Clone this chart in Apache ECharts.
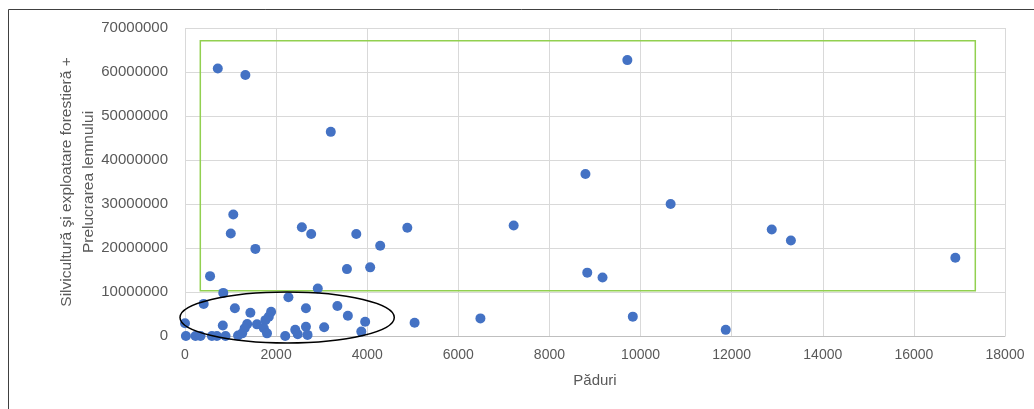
<!DOCTYPE html>
<html>
<head>
<meta charset="utf-8">
<script src="https://cdn.jsdelivr.net/npm/echarts@6/dist/echarts.min.js"></script>
<style>
html,body{margin:0;padding:0;background:#fff;}
#c{width:1034px;height:409px;}
</style>
</head>
<body>
<div id="c"></div>
<script>
// Păduri (x) values
var paduri = [
  720, 1325, 3200, 9710, 8790, 10660, 8830, 9165, 9830, 11870,
  12880, 13300, 16910, 4880, 7215, 5040, 6485, 1060, 1005, 1545,
  550, 2565, 2770, 3760, 4285, 3555, 4065, 840, 2915, 2270,
  410, 1095, 1435, 1890, 1840, 1765, 0, 830, 1365, 1310,
  1580, 1730, 1800, 1165, 1255, 20, 230, 340, 590, 700,
  890, 2200, 2655, 3345, 3575, 3955, 3870, 3055, 2655, 2420,
  2475, 2690
];
// Silvicultură şi exploatare forestieră + Prelucrarea lemnului (y) values
var silvicultura = [
  60800000, 59300000, 46400000, 62700000, 36800000, 30000000, 14400000, 13300000, 4400000, 1400000,
  24200000, 21700000, 17800000, 24600000, 25100000, 3000000, 4000000, 27600000, 23300000, 19800000,
  13600000, 24700000, 23200000, 23200000, 20500000, 15200000, 15600000, 9800000, 10800000, 8800000,
  7300000, 6300000, 5300000, 5500000, 4400000, 3600000, 2900000, 2400000, 2700000, 1750000,
  2650000, 1750000, 600000, 100000, 600000, 0, 0, 0, 0, 0,
  0, 0, 6300000, 6800000, 4600000, 3250000, 1000000, 2000000, 2100000, 1400000,
  400000, 250000
];
var xTicks = [0, 2000, 4000, 6000, 8000, 10000, 12000, 14000, 16000, 18000];
var yTicks = [0, 10000000, 20000000, 30000000, 40000000, 50000000, 60000000, 70000000];
// highlighted region (green rectangle) in data units: [xMin, yMin], [xMax, yMax]
var greenBox = [[336, 10300000], [17348, 67100000]];
// ellipse around the low cluster: centre and radii in data units
var ellipseCenter = [2242, 4200000];
var ellipseRadius = [2352, 5800000];

var points = paduri.map(function (x, i) { return [x, silvicultura[i]]; });

var chart = echarts.init(document.getElementById('c'));
var font = 'Liberation Sans';
chart.setOption({
  backgroundColor: '#ffffff',
  animation: false,
  grid: { left: 185, right: 29, top: 28, bottom: 73, containLabel: false },
  xAxis: {
    type: 'value',
    min: xTicks[0], max: xTicks[xTicks.length - 1], interval: 2000,
    name: 'Păduri', nameLocation: 'middle', nameGap: 37, nameMoveOverlap: false,
    nameTextStyle: { color: '#595959', fontSize: 15, fontFamily: font },
    axisLine: { show: true, lineStyle: { color: '#BFBFBF', width: 1 } },
    axisTick: { show: false },
    axisLabel: { color: '#595959', fontSize: 14, fontFamily: font, margin: 12,
      formatter: function (v) { return String(v); } },
    splitLine: { show: true, lineStyle: { color: '#D9D9D9', width: 1 } }
  },
  yAxis: {
    type: 'value',
    min: yTicks[0], max: yTicks[yTicks.length - 1], interval: 10000000,
    name: 'Silvicultură şi exploatare forestieră +\nPrelucrarea lemnului',
    nameLocation: 'middle', nameRotate: 90, nameGap: 85, nameMoveOverlap: false,
    nameTextStyle: { color: '#595959', fontSize: 15.5, fontFamily: font, lineHeight: 22, align: 'center' },
    axisLine: { show: false },
    axisTick: { show: false },
    axisLabel: { color: '#595959', fontSize: 15, fontFamily: font, margin: 17,
      formatter: function (v) { return String(v); } },
    splitLine: { show: true, lineStyle: { color: '#D9D9D9', width: 1 } }
  },
  series: [{
    type: 'scatter',
    data: points,
    symbol: 'circle',
    symbolSize: 10,
    itemStyle: { color: '#4472C4', opacity: 1 },
    markArea: {
      silent: true,
      itemStyle: { color: 'rgba(0,0,0,0)', borderColor: '#92D050', borderWidth: 1.5 },
      data: [[{ coord: greenBox[0] }, { coord: greenBox[1] }]]
    }
  }]
});

function drawExtras() {
  var c = chart.convertToPixel({ gridIndex: 0 }, ellipseCenter);
  var e = chart.convertToPixel({ gridIndex: 0 }, [ellipseCenter[0] + ellipseRadius[0], ellipseCenter[1] + ellipseRadius[1]]);
  chart.setOption({
    graphic: [
      { type: 'rect', shape: { x: 8.5, y: 9.5, width: 1100, height: 500 },
        style: { fill: 'none', stroke: '#404040', lineWidth: 1 }, silent: true },
      { type: 'ellipse', shape: { cx: c[0], cy: c[1], rx: Math.abs(e[0] - c[0]), ry: Math.abs(c[1] - e[1]) },
        style: { fill: 'none', stroke: '#000000', lineWidth: 1.5 }, silent: true, z: 100 }
    ]
  });
}
drawExtras();
</script>
</body>
</html>
